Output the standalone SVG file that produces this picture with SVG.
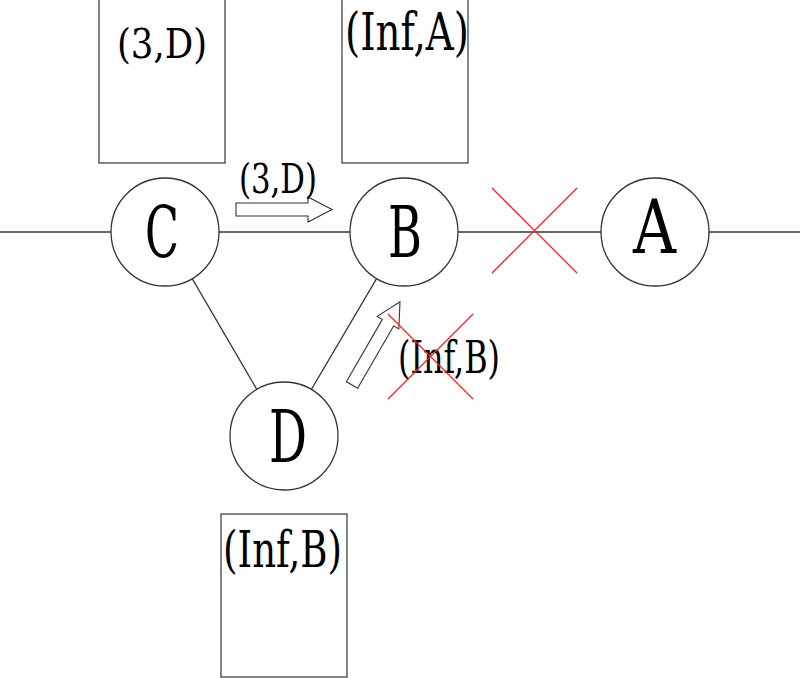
<svg xmlns="http://www.w3.org/2000/svg" width="800" height="678" viewBox="0 0 800 678">
<style>
.ln{stroke:#333;stroke-width:1.3;fill:none}
.nd{stroke:#333;stroke-width:1.3;fill:#fff}
.bx{stroke:#444;stroke-width:1.3;fill:#fff}
.ar{stroke:#333;stroke-width:1.1;fill:#fff}
.rx{stroke:#f22;stroke-width:1.3}
.t{font-family:"DejaVu Serif","Liberation Serif",serif;fill:#000}
</style>
<rect width="800" height="678" fill="#fff"/>
<defs>
<polygon id="arrow" points="0,-6.5 72,-6.5 72,-12.5 96,0 72,12.5 72,6.5 0,6.5"/>
</defs>
<g id="connectors">
<line class="ln" x1="0" y1="232" x2="800" y2="232"/>
<line class="ln" x1="165" y1="232" x2="284" y2="436"/>
<line class="ln" x1="404" y1="232" x2="284" y2="436"/>
</g>
<g id="table-C">
<rect class="bx" x="99" y="-1" width="126" height="164"/>
<text class="t" x="117" y="58" font-size="41" textLength="90" lengthAdjust="spacingAndGlyphs">(3,D)</text>
</g>
<g id="table-B">
<rect class="bx" x="342" y="-1" width="126" height="164"/>
<text class="t" x="345" y="50" font-size="52" textLength="124" lengthAdjust="spacingAndGlyphs">(Inf,A)</text>
</g>
<g id="table-D">
<rect class="bx" x="221" y="514" width="126" height="163"/>
<text class="t" x="223" y="567" font-size="51" textLength="119" lengthAdjust="spacingAndGlyphs">(Inf,B)</text>
</g>
<g id="node-C">
<circle class="nd" cx="165" cy="232" r="54"/>
<text class="t" x="145" y="257" font-size="71" textLength="34" lengthAdjust="spacingAndGlyphs">C</text>
</g>
<g id="node-B">
<circle class="nd" cx="404" cy="232" r="54"/>
<text class="t" x="388" y="257" font-size="71" textLength="34" lengthAdjust="spacingAndGlyphs">B</text>
</g>
<g id="node-A">
<circle class="nd" cx="655" cy="232" r="54"/>
<text class="t" x="633" y="253" font-size="74" textLength="43" lengthAdjust="spacingAndGlyphs">A</text>
</g>
<g id="node-D">
<circle class="nd" cx="284" cy="436" r="54"/>
<text class="t" x="269" y="462" font-size="73" textLength="38" lengthAdjust="spacingAndGlyphs">D</text>
</g>
<g id="message-CB">
<use href="#arrow" class="ar" transform="translate(236,209.5)"/>
<text class="t" x="239" y="193" font-size="41" textLength="78" lengthAdjust="spacingAndGlyphs">(3,D)</text>
</g>
<g id="message-DB">
<use href="#arrow" class="ar" transform="translate(352,385) rotate(-60)"/>
<text class="t" x="398" y="373" font-size="45" textLength="102" lengthAdjust="spacingAndGlyphs">(Inf,B)</text>
<line class="rx" x1="388" y1="314" x2="473" y2="399"/>
<line class="rx" x1="473" y1="314" x2="388" y2="399"/>
</g>
<g id="link-broken">
<line class="rx" x1="492" y1="188" x2="577" y2="273"/>
<line class="rx" x1="577" y1="188" x2="492" y2="273"/>
</g>
</svg>
